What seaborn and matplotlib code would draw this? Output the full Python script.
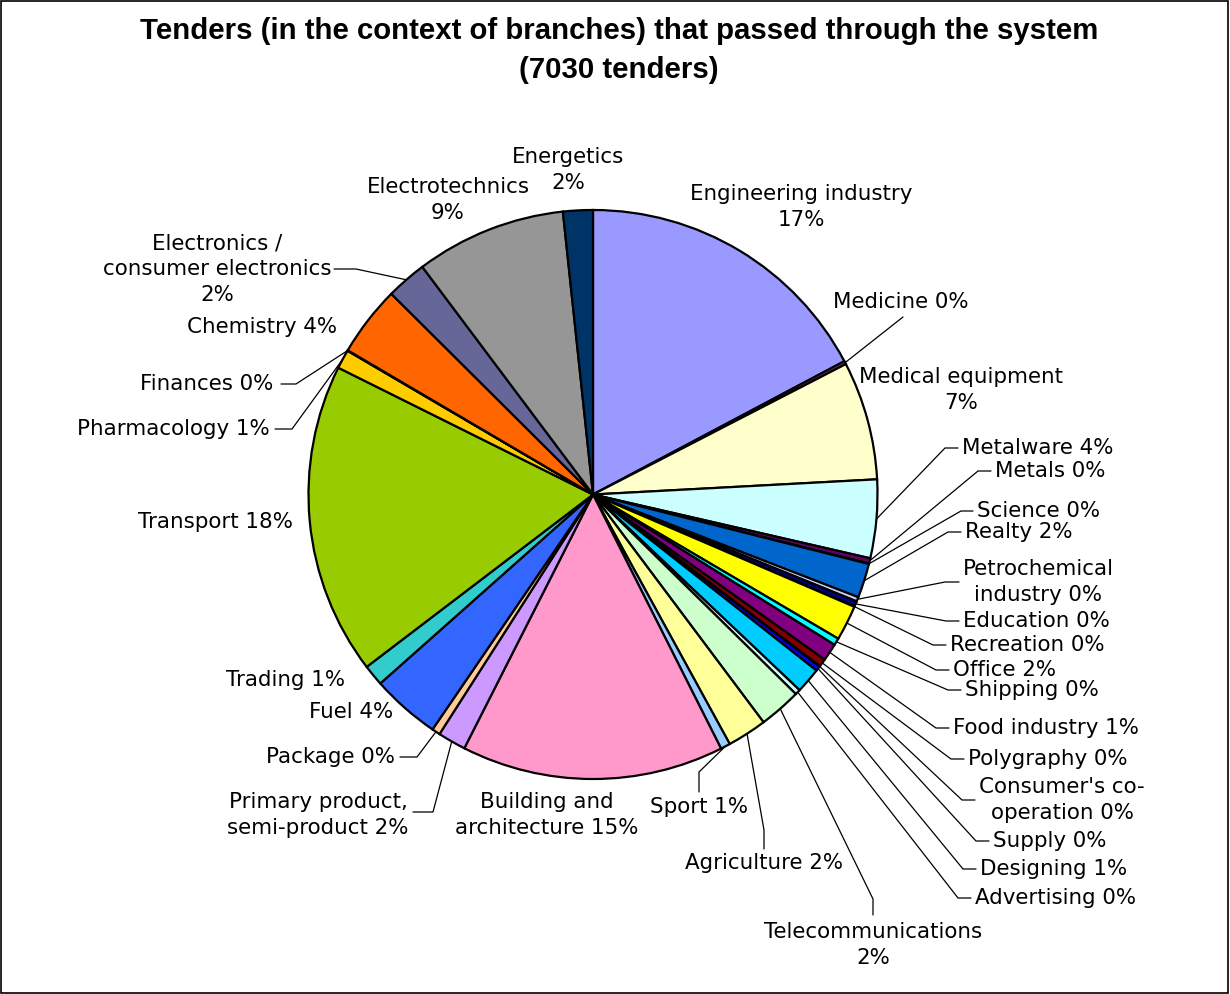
import matplotlib
matplotlib.use("Agg")
import matplotlib.pyplot as plt
import matplotlib.patches as mpatches
import seaborn as sns
import numpy as np

# Branch shares of all tenders (percent), clockwise from 12 o'clock
branches = [
    "Engineering industry", "Medicine", "Medical equipment", "Metalware", "Metals",
    "Science", "Realty", "Petrochemical\nindustry", "Education", "Recreation",
    "Office", "Shipping", "Food industry", "Polygraphy", "Consumer's co-\noperation",
    "Supply", "Designing", "Advertising", "Telecommunications", "Agriculture",
    "Sport", "Building and\narchitecture", "Primary product,\nsemi-product", "Package", "Fuel",
    "Trading", "Transport", "Pharmacology", "Finances", "Chemistry",
    "Electronics /\nconsumer electronics", "Electrotechnics", "Energetics",
]
shares = [
    17.24, 0.18, 6.73, 4.45, 0.30,
    0.03, 1.95, 0.25, 0.30, 0.03,
    2.00, 0.40, 1.00, 0.45, 0.03,
    0.28, 1.45, 0.30, 2.40, 2.25,
    0.55, 14.90, 1.60, 0.47, 3.90,
    1.20, 17.71, 1.08, 0.03, 4.00,
    2.30, 8.55, 1.69,
]
palette = [
    "#9999FF", "#993366", "#FFFFCC", "#CCFFFF", "#660066",
    "#FF8080", "#0066CC", "#CCCCFF", "#000080", "#FF00FF",
    "#FFFF00", "#00FFFF", "#800080", "#800000", "#008080",
    "#0000FF", "#00CCFF", "#CCFFFF", "#CCFFCC", "#FFFF99",
    "#99CCFF", "#FF99CC", "#CC99FF", "#FFCC99", "#3366FF",
    "#33CCCC", "#99CC00", "#FFCC00", "#FF9900", "#FF6600",
    "#666699", "#969696", "#003366",
]
title = "Tenders (in the context of branches) that passed through the system\n(7030 tenders)"

# Label placement in pixel coordinates: x, y, alignment, separator, leader path
label_layout = {
    "Engineering industry": (801, 207, "center", "\n", None),
    "Medicine": (901, 302, "center", " ", [(903, 317)]),
    "Medical equipment": (961, 390, "center", "\n", None),
    "Metalware": (962, 448, "left", " ", [(958, 448), (945, 448)]),
    "Metals": (995, 471, "left", " ", [(991, 471), (978, 471)]),
    "Science": (977, 511, "left", " ", [(973, 511), (961, 511)]),
    "Realty": (965, 532, "left", " ", [(961, 532), (948, 532)]),
    "Petrochemical\nindustry": (1038, 582, "center", " ", [(959, 582), (945, 582)]),
    "Education": (963, 621, "left", " ", [(959, 621), (946, 621)]),
    "Recreation": (950, 645, "left", " ", [(946, 645), (933, 645)]),
    "Office": (953, 670, "left", " ", [(949, 670), (936, 670)]),
    "Shipping": (965, 690, "left", " ", [(961, 690), (948, 690)]),
    "Food industry": (953, 728, "left", " ", [(949, 728), (936, 728)]),
    "Polygraphy": (968, 759, "left", " ", [(964, 759), (951, 759)]),
    "Consumer's co-\noperation": (1062, 800, "center", " ", [(975, 800), (962, 800)]),
    "Supply": (993, 841, "left", " ", [(989, 841), (976, 841)]),
    "Designing": (980, 869, "left", " ", [(976, 869), (963, 869)]),
    "Advertising": (975, 898, "left", " ", [(971, 898), (958, 898)]),
    "Telecommunications": (873, 945, "center", "\n", [(873, 915), (873, 899)]),
    "Agriculture": (764, 863, "center", " ", [(764, 849), (764, 830)]),
    "Sport": (699, 807, "center", " ", [(699, 792), (699, 772)]),
    "Building and\narchitecture": (547, 815, "center", " ", None),
    "Primary product,\nsemi-product": (318, 815, "center", " ", [(413, 812), (433, 812)]),
    "Package": (330, 757, "center", " ", [(400, 757), (417, 757)]),
    "Fuel": (351, 712, "center", " ", None),
    "Trading": (286, 680, "center", " ", None),
    "Transport": (215, 522, "center", " ", None),
    "Pharmacology": (173, 429, "center", " ", [(275, 429), (292, 429)]),
    "Finances": (207, 384, "center", " ", [(281, 384), (296, 384)]),
    "Chemistry": (262, 327, "center", " ", None),
    "Electronics /\nconsumer electronics": (217, 269, "center", "\n", [(334, 269), (356, 269)]),
    "Electrotechnics": (448, 200, "center", "\n", None),
    "Energetics": (568, 170, "center", "\n", None),
}

W, H = 1230, 994
CX, CY, R = 593, 494.5, 284.5

sns.set_theme(style="white")
plt.rcParams["font.family"] = ["DejaVu Sans"]
plt.rcParams["text.color"] = "black"

fig = plt.figure(figsize=(W / 100, H / 100), dpi=100)
fig.patch.set_facecolor("white")
ax = fig.add_axes([0, 0, 1, 1])

wedges, _ = ax.pie(
    shares, colors=palette, startangle=270, counterclock=True,
    center=(CX, CY), radius=R,
    wedgeprops=dict(edgecolor="black", linewidth=1.6),
)
ax.set_xlim(0, W)
ax.set_ylim(H, 0)
ax.set_aspect("equal")
ax.axis("off")

total = float(sum(shares))
for name, value, wedge in zip(branches, shares, wedges):
    x, y, ha, sep, leader = label_layout[name]
    pct = int(np.floor(value / total * 100 + 0.5))
    ax.text(x, y, f"{name}{sep}{pct}%", ha=ha, va="center", multialignment="center",
            fontsize=15.4, color="black", linespacing=1.36)
    if leader:
        mid = np.deg2rad((wedge.theta1 + wedge.theta2) / 2)
        rim = (CX + R * np.cos(mid), CY + R * np.sin(mid))
        pts = list(leader) + [rim]
        ax.plot([p[0] for p in pts], [p[1] for p in pts], color="black", lw=0.9,
                solid_joinstyle="miter", zorder=0.5)

ax.text(619, 50.5, title, ha="center", va="center", fontsize=21.2, color="black",
        fontweight="bold", family=["Liberation Sans", "DejaVu Sans"], linespacing=1.46)

fig.patches.append(mpatches.Rectangle((1 / W, 1 / H), (W - 3) / W, (H - 2) / H,
                                      transform=fig.transFigure, fill=False,
                                      edgecolor="black", lw=1.2))

fig.savefig("out.png", dpi=100)
